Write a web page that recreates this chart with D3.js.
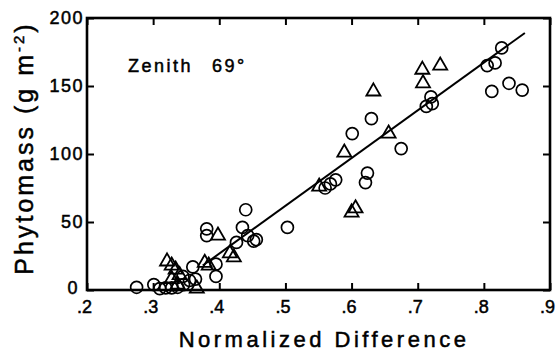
<!DOCTYPE html>
<meta charset="utf-8">
<head>
<style>
  body { margin: 0; background: #fff; }
  text { font-family: "Liberation Sans", Arial, sans-serif; fill: #000; stroke: #000; stroke-width: 0.5px; }
</style>
</head>
<body>
<script src="https://d3js.org/d3.v7.min.js"></script>

<div id="my_dataviz"></div>

<script>
    // data: normalized difference vs phytomass (g m-2)
    var circleX = [0.275, 0.301, 0.310, 0.319, 0.328, 0.337, 0.346, 0.355, 0.360, 0.345,
                   0.364, 0.395, 0.395, 0.381, 0.381, 0.435, 0.440, 0.426, 0.443, 0.452,
                   0.456, 0.503, 0.560, 0.568, 0.576, 0.624, 0.621, 0.601, 0.630, 0.675,
                   0.720, 0.722, 0.713, 0.827, 0.805, 0.817, 0.812, 0.838, 0.858];
    var circleY = [2, 4, 1, 1.5, 1.5, 2, 4, 7, 17, 10,
                   8, 19, 10, 45, 40, 46, 59, 35, 40, 36,
                   37, 46, 75, 78, 81, 86, 79, 115, 126, 104,
                   142, 137, 135, 178, 165, 167, 146, 152, 147];

    var triX = [0.321, 0.328, 0.334, 0.340, 0.328, 0.337, 0.366, 0.378, 0.384, 0.398,
                0.416, 0.422, 0.551, 0.589, 0.600, 0.606, 0.633, 0.656, 0.707, 0.708, 0.734];
    var triY = [21, 18, 15, 11, 8, 4, 1, 20, 18, 40,
                27, 24, 76, 101, 57, 60, 146, 115, 162, 152, 165];

    // regression line end points
    var fitX = [0.375, 0.862];
    var fitY = [18, 189];

    var xTicks = [0.2, 0.3, 0.4, 0.5, 0.6, 0.7, 0.8, 0.9];
    var xTickLabels = [".2", ".3", ".4", ".5", ".6", ".7", ".8", ".9"];
    var yTicks = [0, 50, 100, 150, 200];
    var yTickLabels = ["0", "50", "100", "150", "200"];

    var W = 556, H = 353;
    var margin = {top: 18, right: 6, bottom: 63, left: 87},
        width = W - margin.left - margin.right,
        height = H - margin.top - margin.bottom;

    var svg = d3.select("#my_dataviz")
      .append("svg")
        .attr("width", W)
        .attr("height", H)
      .append("g")
        .attr("transform", "translate(" + margin.left + "," + margin.top + ")");

    var x = d3.scaleLinear().domain([0.2, 0.9]).range([0, width]);
    var y = d3.scaleLinear().domain([0, 200]).range([height, 0]);

    // axes with inward ticks, labels drawn separately
    var tickLen = 7;
    svg.append("g")
        .attr("transform", "translate(0," + height + ")")
        .call(d3.axisTop(x).tickValues(xTicks).tickSize(tickLen).tickFormat(""));
    svg.append("g")
        .call(d3.axisBottom(x).tickValues(xTicks).tickSize(tickLen).tickFormat(""));
    svg.append("g")
        .call(d3.axisRight(y).tickValues(yTicks).tickSize(tickLen).tickFormat(""));
    svg.append("g")
        .attr("transform", "translate(" + width + ",0)")
        .call(d3.axisLeft(y).tickValues(yTicks).tickSize(tickLen).tickFormat(""));

    svg.selectAll(".domain").remove();
    svg.selectAll(".tick line").attr("stroke", "#000").attr("stroke-width", 2);

    // frame
    svg.append("rect")
        .attr("x", 0).attr("y", 0)
        .attr("width", width).attr("height", height)
        .attr("fill", "none")
        .attr("stroke", "#000")
        .attr("stroke-width", 2.6);

    // tick labels
    svg.selectAll(".xlab")
      .data(xTicks)
      .enter().append("text")
        .attr("x", function(d) { return x(d) - 10; })
        .attr("y", height + 23)
        .attr("font-size", "18px")
        .text(function(d, i) { return xTickLabels[i]; });

    svg.selectAll(".ylab")
      .data(yTicks)
      .enter().append("text")
        .attr("x", function(d) { return d === 0 ? -8 : -3; })
        .attr("y", function(d) { return y(d) + (d === 0 ? 4 : 6); })
        .attr("text-anchor", "end")
        .attr("font-size", "18px")
        .attr("letter-spacing", "1.5px")
        .text(function(d, i) { return yTickLabels[i]; });

    // axis titles
    svg.append("text")
        .attr("x", 324 - margin.left)
        .attr("y", height + 57)
        .attr("text-anchor", "middle")
        .attr("font-size", "22px")
        .attr("letter-spacing", "3.5px")
        .text("Normalized Difference");

    var ytitle = svg.append("text")
        .attr("transform", "translate(" + (33 - margin.left) + "," + (148 - margin.top) + ") rotate(-90)")
        .attr("text-anchor", "middle")
        .attr("font-size", "25px")
        .attr("letter-spacing", "3px");
    ytitle.append("tspan").text("Phytomass  (g  m");
    ytitle.append("tspan").attr("dy", -9).attr("font-size", "15px").text("-2");
    ytitle.append("tspan").attr("dy", 9).text(")");

    // annotation
    svg.append("text")
        .attr("x", 128 - margin.left).attr("y", 72 - margin.top)
        .attr("font-size", "18px").attr("letter-spacing", "2.5px")
        .text("Zenith");
    svg.append("text")
        .attr("x", 212 - margin.left).attr("y", 72 - margin.top)
        .attr("font-size", "18px").attr("letter-spacing", "2.5px")
        .text("69°");

    // regression line
    var line = d3.line()
        .x(function(d) { return x(d[0]); })
        .y(function(d) { return y(d[1]); });
    svg.append("path")
        .datum(d3.zip(fitX, fitY))
        .attr("d", line)
        .attr("fill", "none")
        .attr("stroke", "#000")
        .attr("stroke-width", 2);

    // circles
    svg.append("g")
      .selectAll("circle")
      .data(d3.zip(circleX, circleY))
      .enter().append("circle")
        .attr("cx", function(d) { return x(d[0]); })
        .attr("cy", function(d) { return y(d[1]); })
        .attr("r", 6)
        .attr("fill", "none")
        .attr("stroke", "#000")
        .attr("stroke-width", 1.7);

    // triangles
    var tri = d3.symbol().type(d3.symbolTriangle).size(85);
    svg.append("g")
      .selectAll("path")
      .data(d3.zip(triX, triY))
      .enter().append("path")
        .attr("d", tri)
        .attr("transform", function(d) { return "translate(" + x(d[0]) + "," + y(d[1]) + ")"; })
        .attr("fill", "none")
        .attr("stroke", "#000")
        .attr("stroke-width", 1.8);
</script>
</body>
